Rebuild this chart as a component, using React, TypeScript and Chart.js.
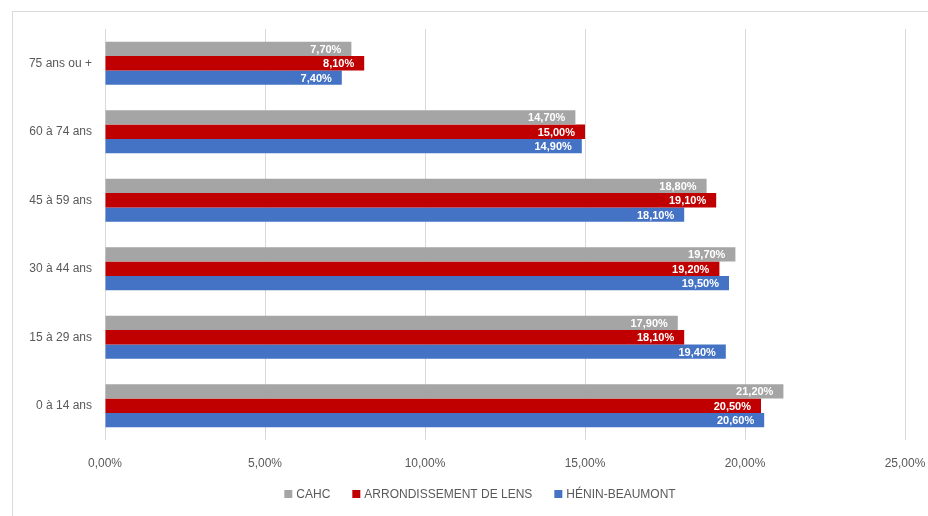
import React, { useEffect, useRef } from "react";
import { Chart, registerables } from "chart.js";

Chart.register(...registerables);

const categories = ["75 ans ou +", "60 à 74 ans", "45 à 59 ans", "30 à 44 ans", "15 à 29 ans", "0 à 14 ans"];
const seriesNames = ["CAHC", "ARRONDISSEMENT DE LENS", "HÉNIN-BEAUMONT"];
const cahc = [7.7, 14.7, 18.8, 19.7, 17.9, 21.2];
const lens = [8.1, 15.0, 19.1, 19.2, 18.1, 20.5];
const henin = [7.4, 14.9, 18.1, 19.5, 19.4, 20.6];
const colors = ["#A5A5A5", "#C00000", "#4472C4"];
const xTicks = [0, 5, 10, 15, 20, 25];

const FONT = "'Liberation Sans', Arial, sans-serif";
const fmt = (v: number) => v.toFixed(2).replace(".", ",") + "%";

const framePlugin = {
  id: "frame",
  beforeDraw(chart: any) {
    const ctx = chart.ctx;
    ctx.save();
    ctx.fillStyle = "#ffffff";
    ctx.fillRect(0, 0, chart.width, chart.height);
    ctx.strokeStyle = "#D9D9D9";
    ctx.lineWidth = 1;
    ctx.beginPath();
    ctx.moveTo(12.5, chart.height);
    ctx.lineTo(12.5, 11.5);
    ctx.lineTo(chart.width, 11.5);
    ctx.stroke();
    ctx.restore();
  },
};

const labelPlugin = {
  id: "barLabels",
  afterDatasetsDraw(chart: any) {
    const ctx = chart.ctx;
    ctx.save();
    ctx.font = `bold 11px ${FONT}`;
    ctx.fillStyle = "#ffffff";
    ctx.textAlign = "right";
    ctx.textBaseline = "middle";
    chart.data.datasets.forEach((ds: any, i: number) => {
      const meta = chart.getDatasetMeta(i);
      meta.data.forEach((el: any, j: number) => {
        ctx.fillText(fmt(ds.data[j]), el.x - 10, el.y + 1);
      });
    });
    ctx.restore();
  },
};

const legendPlugin = {
  id: "customLegend",
  afterDraw(chart: any) {
    const ctx = chart.ctx;
    ctx.save();
    ctx.font = `12px ${FONT}`;
    ctx.textBaseline = "middle";
    ctx.textAlign = "left";
    const box = 8, gapBox = 4, gapItem = 22;
    const widths = seriesNames.map((n) => ctx.measureText(n).width);
    const total = widths.reduce((a, w) => a + box + gapBox + w, 0) + gapItem * (seriesNames.length - 1);
    let x = 480 - total / 2;
    const y = 494;
    seriesNames.forEach((n, i) => {
      ctx.fillStyle = colors[i];
      ctx.fillRect(x, y - box / 2, box, box);
      ctx.fillStyle = "#595959";
      ctx.fillText(n, x + box + gapBox, y + 1);
      x += box + gapBox + widths[i] + gapItem;
    });
    ctx.restore();
  },
};

export default function App() {
  const ref = useRef<HTMLCanvasElement>(null);
  useEffect(() => {
    if (!ref.current) return;
    const chart = new Chart(ref.current, {
      type: "bar",
      data: {
        labels: categories,
        datasets: [cahc, lens, henin].map((d, i) => ({
          label: seriesNames[i],
          data: d,
          backgroundColor: colors[i],
          borderWidth: 0,
          categoryPercentage: 0.63,
          barPercentage: 1,
        })),
      },
      options: {
        indexAxis: "y",
        animation: false,
        responsive: false,
        devicePixelRatio: 1,
        layout: { padding: { left: 0, right: 23, top: 29, bottom: 0 } },
        plugins: { legend: { display: false }, tooltip: { enabled: false } },
        scales: {
          x: {
            min: 0,
            max: 25,
            afterBuildTicks: (s: any) => {
              s.ticks = xTicks.map((v) => ({ value: v }));
            },
            afterFit: (s: any) => {
              s.height = 76;
              s.paddingLeft = 0;
              s.paddingRight = 0;
            },
            grid: { color: "#D9D9D9", drawTicks: false, lineWidth: 1 },
            border: { display: false },
            ticks: {
              padding: 16,
              color: "#595959",
              font: { family: FONT, size: 12 },
              callback: (v: any) => fmt(Number(v)),
            },
          },
          y: {
            afterFit: (s: any) => {
              s.width = 105;
              s.paddingTop = 0;
              s.paddingBottom = 0;
            },
            grid: { display: false, drawTicks: false },
            border: { display: false },
            ticks: {
              padding: 13,
              color: "#595959",
              font: { family: FONT, size: 12 },
            },
          },
        },
      },
      plugins: [framePlugin, labelPlugin, legendPlugin],
    } as any);
    return () => chart.destroy();
  }, []);
  return (
    <div style={{ position: "absolute", left: 0, top: 0, width: 928, height: 516, background: "#fff" }}>
      <canvas ref={ref} width={928} height={516} style={{ display: "block" }} />
    </div>
  );
}
